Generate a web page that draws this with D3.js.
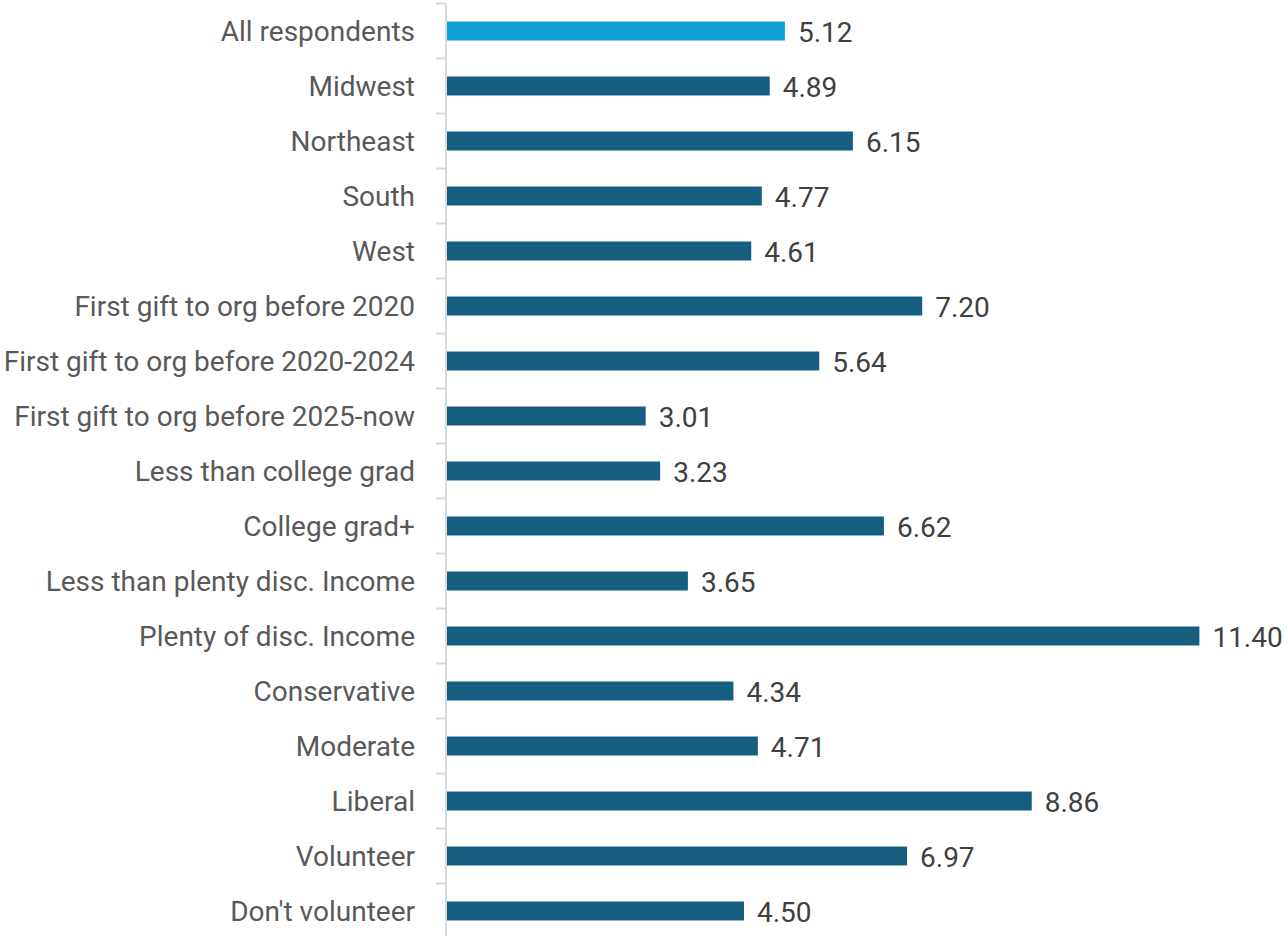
<!DOCTYPE html>
<html>
<head>
<meta charset="utf-8">
<script src="https://cdn.jsdelivr.net/npm/d3@7"></script>
<style>
  html, body { margin: 0; padding: 0; background: #fff; }
  svg { display: block; }
</style>
</head>
<body>
<svg id="chart" width="1288" height="936"></svg>
<script>
// Average value per group
const categories = [
  "All respondents", "Midwest", "Northeast", "South", "West",
  "First gift to org before 2020", "First gift to org before 2020-2024",
  "First gift to org before 2025-now", "Less than college grad", "College grad+",
  "Less than plenty disc. Income", "Plenty of disc. Income",
  "Conservative", "Moderate", "Liberal", "Volunteer", "Don't volunteer"
];
const values = [5.12, 4.89, 6.15, 4.77, 4.61, 7.20, 5.64, 3.01, 3.23, 6.62,
                3.65, 11.40, 4.34, 4.71, 8.86, 6.97, 4.50];
const highlighted = ["All respondents"];

const data = categories.map((c, i) => ({ category: c, value: values[i] }));

const svg = d3.select("#chart");
const axisX = 446;
const font = "Roboto, 'Liberation Sans', Arial, sans-serif";

const x = d3.scaleLinear().domain([0, 12]).range([axisX + 1, axisX + 1 + 12 * 66]);
const y = d3.scaleBand().domain(categories).range([3.5, 3.5 + 17 * 55])
  .paddingInner(0.655).paddingOuter(0.3275);

// bars
svg.append("g").selectAll("rect").data(data).join("rect")
  .attr("x", x(0))
  .attr("y", d => y(d.category))
  .attr("width", d => x(d.value) - x(0))
  .attr("height", y.bandwidth())
  .attr("fill", d => highlighted.includes(d.category) ? "#10A0D7" : "#165E80");

// category axis with tick marks between bands
const axisG = svg.append("g");
const bounds = d3.range(categories.length + 1).map(i => 3.5 + i * 55);
axisG.append("line")
  .attr("x1", axisX).attr("x2", axisX)
  .attr("y1", 3.5).attr("y2", 936)
  .attr("stroke", "#D9D9D9").attr("stroke-width", 2);
axisG.selectAll("line.tick").data(bounds).join("line")
  .attr("class", "tick")
  .attr("x1", axisX - 10).attr("x2", axisX)
  .attr("y1", d => d).attr("y2", d => d)
  .attr("stroke", "#D9D9D9").attr("stroke-width", 2);

// category labels
svg.append("g").selectAll("text").data(data).join("text")
  .attr("x", 415)
  .attr("y", d => y(d.category) + y.bandwidth() / 2)
  .attr("dy", "0.37em")
  .attr("text-anchor", "end")
  .attr("font-family", font)
  .attr("font-size", 28)
  .attr("fill", "#595959")
  .text(d => d.category);

// value labels
svg.append("g").selectAll("text").data(data).join("text")
  .attr("x", d => x(d.value) + 13)
  .attr("y", d => y(d.category) + y.bandwidth() / 2)
  .attr("dy", "0.4em")
  .attr("font-family", font)
  .attr("font-size", 28)
  .attr("fill", "#404040")
  .text(d => d3.format(".2f")(d.value));
</script>
</body>
</html>
